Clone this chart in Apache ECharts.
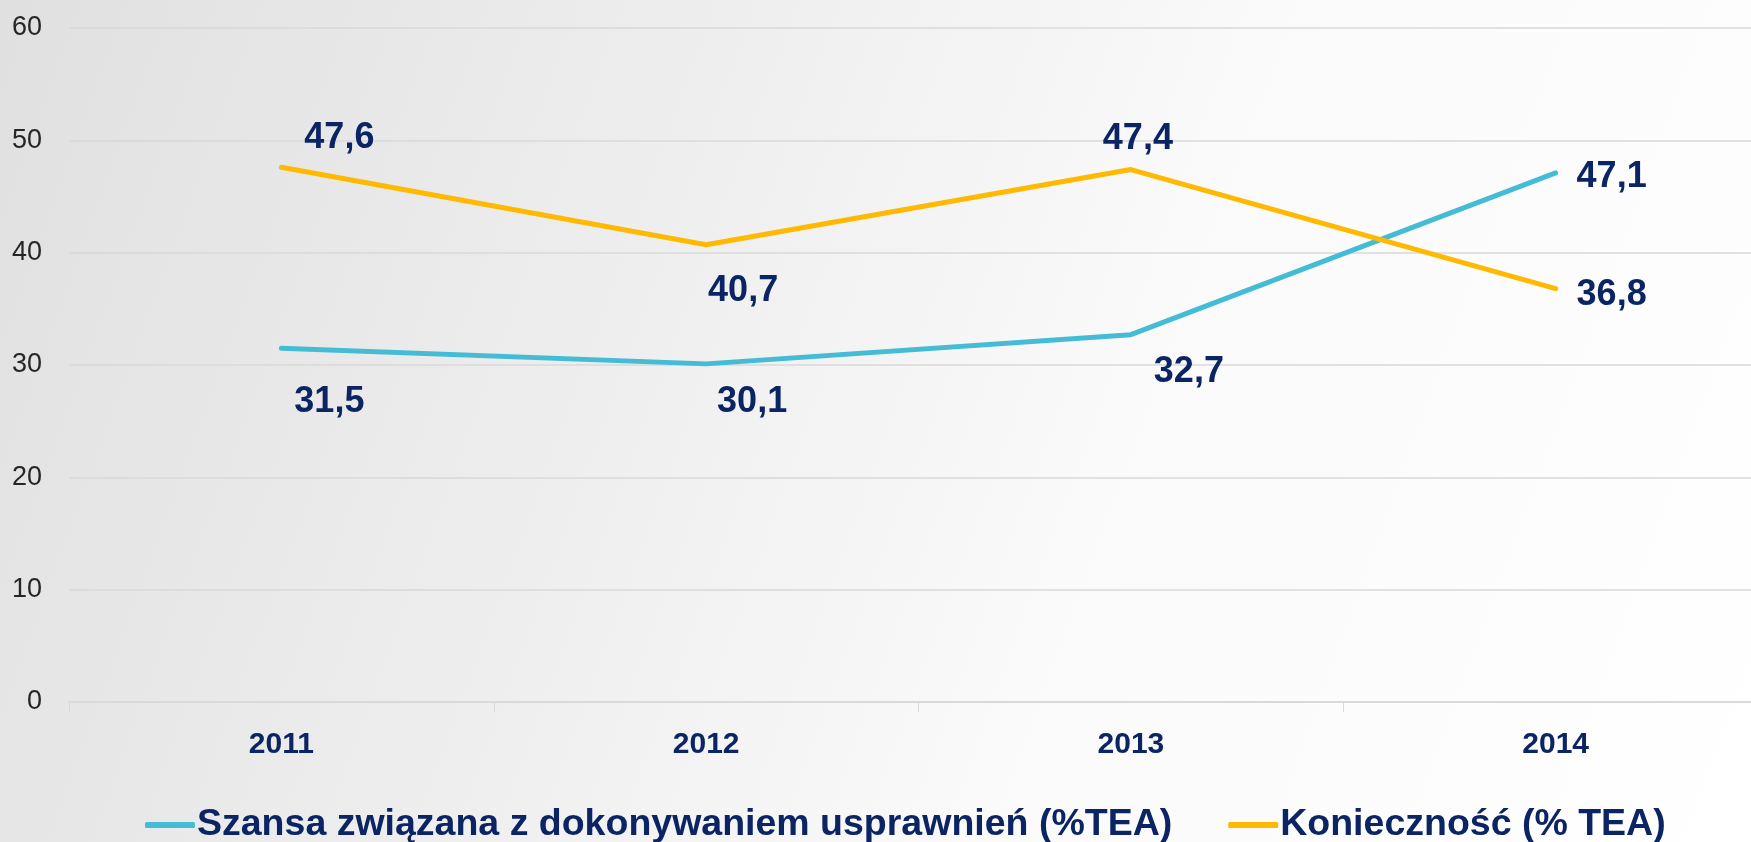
<!DOCTYPE html>
<html>
<head>
<meta charset="utf-8">
<script src="https://cdn.jsdelivr.net/npm/echarts@6/dist/echarts.min.js"></script>
<style>
  html, body { margin: 0; padding: 0; overflow: hidden; }
  #main {
    width: 1768px; height: 842px;
    background: linear-gradient(110deg, #e0e0e0 0%, #eeeeee 35%, #fafafa 62%, #ffffff 100%);
  }
</style>
</head>
<body>
<div id="main"></div>
<script>
  // dane
  var years = ['2011', '2012', '2013', '2014'];
  var szansa = [31.5, 30.1, 32.7, 47.1];
  var koniecznosc = [47.6, 40.7, 47.4, 36.8];
  var seriesNames = ['Szansa związana z dokonywaniem usprawnień (%TEA)', 'Konieczność (% TEA)'];
  var yTicks = [0, 10, 20, 30, 40, 50, 60];

  var navy = '#0b2463';

  // przesunięcia etykiet względem punktów [dx, dy]
  var szansaOffsets = [[48, 54], [46, 38], [58, 37], [56, 4]];
  var koniecznoscOffsets = [[58, -29], [37, 46], [7, -30], [56, 6]];

  function withLabels(values, offsets) {
    return values.map(function (v, i) {
      return { value: v, label: { offset: offsets[i] } };
    });
  }

  var labelStyle = {
    show: true,
    position: 'inside',
    align: 'center',
    verticalAlign: 'middle',
    color: navy,
    fontFamily: 'Liberation Sans',
    fontWeight: 'bold',
    fontSize: 36,
    formatter: function (p) { return String(p.value).replace('.', ','); }
  };

  var chart = echarts.init(document.getElementById('main'), null, { renderer: 'canvas' });
  chart.setOption({
    backgroundColor: 'transparent',
    animation: false,
    grid: { left: 69, right: 0, top: 28, bottom: 140 },
    legend: {
      top: 801,
      left: 140,
      itemGap: 56,
      itemWidth: 50,
      itemHeight: 6,
      icon: 'roundRect',
      textStyle: { color: navy, fontFamily: 'Liberation Sans', fontWeight: 'bold', fontSize: 37.5, padding: [0, 0, 0, -3] },
      data: seriesNames
    },
    xAxis: {
      type: 'category',
      data: years,
      boundaryGap: true,
      axisLine: { lineStyle: { color: '#d9d9d9', width: 2 } },
      axisTick: { show: true, length: 10, lineStyle: { color: '#d9d9d9', width: 1 } },
      axisLabel: { margin: 28, color: navy, fontFamily: 'Liberation Sans', fontWeight: 'bold', fontSize: 30 }
    },
    yAxis: {
      type: 'value',
      min: yTicks[0],
      max: yTicks[yTicks.length - 1],
      interval: yTicks[1] - yTicks[0],
      axisLine: { show: false },
      axisTick: { show: false },
      splitLine: { lineStyle: { color: '#d9d9d9', width: 1.5 } },
      axisLabel: { margin: 27, color: '#262626', fontFamily: 'Liberation Sans', fontSize: 27 }
    },
    series: [
      {
        name: seriesNames[0],
        type: 'line',
        data: withLabels(szansa, szansaOffsets),
        showSymbol: true,
        symbol: 'circle',
        symbolSize: 1,
        color: '#45bcd6',
        lineStyle: { width: 5, color: '#45bcd6', cap: 'round' },
        label: labelStyle
      },
      {
        name: seriesNames[1],
        type: 'line',
        data: withLabels(koniecznosc, koniecznoscOffsets),
        showSymbol: true,
        symbol: 'circle',
        symbolSize: 1,
        color: '#ffb900',
        lineStyle: { width: 5, color: '#ffb900', cap: 'round' },
        label: labelStyle
      }
    ]
  });
</script>
</body>
</html>
